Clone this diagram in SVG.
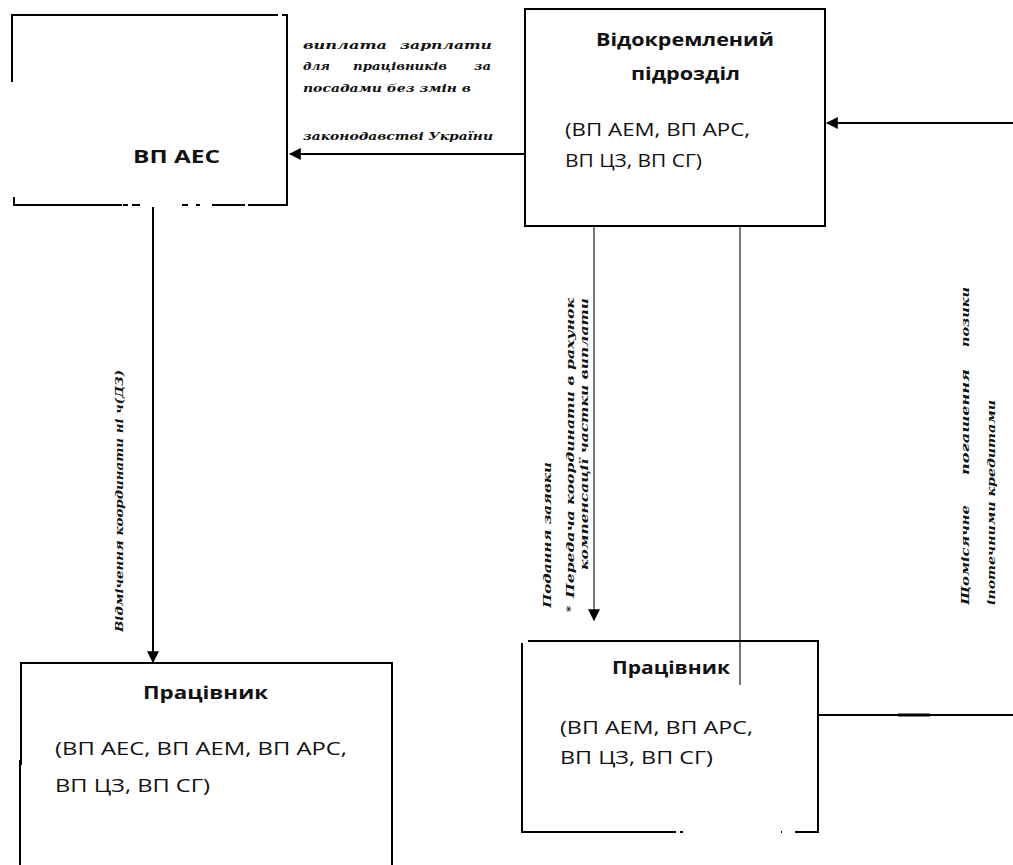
<svg xmlns="http://www.w3.org/2000/svg" width="1013" height="865" viewBox="0 0 1013 865">
<style>
.box{fill:none;stroke:#000;stroke-width:2}
.t{font-family:"Open Sans","Liberation Sans",sans-serif;font-size:18px;fill:#111}
.b{font-weight:bold}
.lbl{font-family:"DejaVu Serif","Liberation Serif",serif;font-size:11.5px;font-style:italic;font-weight:bold;fill:#111}
.ln{fill:none;stroke:#000;stroke-width:2}
.gray{stroke:#555;stroke-width:1.6}
</style>
<defs>
<marker id="ahb" viewBox="0 0 10 10" refX="9" refY="5" markerWidth="12" markerHeight="12" orient="auto" markerUnits="userSpaceOnUse">
<path d="M0,0 L10,5 L0,10 z" fill="#000"/>
</marker>
</defs>
<rect width="1013" height="865" fill="#fff"/>

<g id="connectors">
<line class="ln" x1="525" y1="154" x2="290" y2="154" marker-end="url(#ahb)"/>
<line class="ln" x1="1013" y1="123" x2="827" y2="123" marker-end="url(#ahb)"/>
<line class="ln" x1="153" y1="207" x2="153" y2="662" marker-end="url(#ahb)"/>
<line class="ln gray" x1="594" y1="226" x2="594" y2="620" marker-end="url(#ahb)"/>
<line class="ln gray" x1="740" y1="226" x2="740" y2="685"/>
<line class="ln" x1="819" y1="715" x2="1013" y2="715"/>
<line x1="898" y1="715" x2="930" y2="715" stroke="#000" stroke-width="3"/>

<text class="lbl" x="303" y="49" textLength="84" lengthAdjust="spacingAndGlyphs">виплата</text>
<text class="lbl" x="400" y="49" textLength="92" lengthAdjust="spacingAndGlyphs">зарплати</text>
<text class="lbl" x="303" y="70" textLength="27" lengthAdjust="spacingAndGlyphs">для</text>
<text class="lbl" x="353" y="70" textLength="94" lengthAdjust="spacingAndGlyphs">працівників</text>
<text class="lbl" x="474" y="70" textLength="17" lengthAdjust="spacingAndGlyphs">за</text>
<text class="lbl" x="303" y="92" textLength="168" lengthAdjust="spacingAndGlyphs">посадами без змін в</text>
<text class="lbl" x="303" y="140" textLength="190" lengthAdjust="spacingAndGlyphs">законодавстві України</text>

<text class="lbl" transform="translate(123,632) rotate(-90)" textLength="262" lengthAdjust="spacingAndGlyphs">Відмічення координати ні ч(ДЗ)</text>
<text class="lbl" transform="translate(551,608) rotate(-90)" textLength="146" lengthAdjust="spacingAndGlyphs">Подання заявки</text>
<g transform="translate(574,612) rotate(-90)">
<text class="lbl" x="0" y="0">*</text>
<text class="lbl" x="14" y="0" textLength="300" lengthAdjust="spacingAndGlyphs">Передача координати в рахунок</text>
</g>
<text class="lbl" transform="translate(588,570) rotate(-90)" textLength="272" lengthAdjust="spacingAndGlyphs">компенсації частки виплати</text>
<g transform="translate(969,605) rotate(-90)">
<text class="lbl" x="0" y="0" textLength="100" lengthAdjust="spacingAndGlyphs">Щомісячне</text>
<text class="lbl" x="130" y="0" textLength="106" lengthAdjust="spacingAndGlyphs">погашення</text>
<text class="lbl" x="258" y="0" textLength="60" lengthAdjust="spacingAndGlyphs">позики</text>
</g>
<text class="lbl" transform="translate(995,605) rotate(-90)" textLength="205" lengthAdjust="spacingAndGlyphs">іпотечними кредитами</text>
</g>

<g id="node-vp-aes">
<path class="box" d="M12,82 V15 H278 M282,15 H287 V205 H248 M245,205 H212 M200,205 H196 M188,205 H182 M140,205 H132 M128,205 H123 M122,205 H14 V197"/>
<text class="t b" x="133" y="163" textLength="87" lengthAdjust="spacingAndGlyphs">ВП  АЕС</text>
</g>

<g id="node-vidokremleny">
<rect class="box" x="525" y="9" width="300" height="217" stroke="#333"/>
<text class="t b" x="596" y="46" textLength="178" lengthAdjust="spacingAndGlyphs">Відокремлений</text>
<text class="t b" x="631" y="80" textLength="109" lengthAdjust="spacingAndGlyphs">підрозділ</text>
<text class="t" x="565" y="136" textLength="185" lengthAdjust="spacingAndGlyphs">(ВП  АЕМ,  ВП АРС,</text>
<text class="t" x="565" y="167" textLength="137" lengthAdjust="spacingAndGlyphs">ВП ЦЗ, ВП СГ)</text>
</g>

<g id="node-pratsivnyk-1">
<path class="box" d="M20,865 V760 M21,765 V663 H392 V865"/>
<text class="t b" x="143" y="699" textLength="125" lengthAdjust="spacingAndGlyphs">Працівник</text>
<text class="t" x="55" y="755" textLength="292" lengthAdjust="spacingAndGlyphs">(ВП АЕС, ВП АЕМ, ВП АРС,</text>
<text class="t" x="55" y="792" textLength="155" lengthAdjust="spacingAndGlyphs">ВП ЦЗ, ВП СГ)</text>
</g>

<g id="node-pratsivnyk-2">
<path class="box" d="M528,641 H818 V832 H795 M782,832 H781 M683,832 H680 M676,832 H522 V643"/>
<text class="t b" x="612" y="674" textLength="118" lengthAdjust="spacingAndGlyphs">Працівник</text>
<text class="t" x="560" y="734" textLength="193" lengthAdjust="spacingAndGlyphs">(ВП АЕМ, ВП АРС,</text>
<text class="t" x="560" y="764" textLength="153" lengthAdjust="spacingAndGlyphs">ВП ЦЗ, ВП СГ)</text>
</g>
</svg>
